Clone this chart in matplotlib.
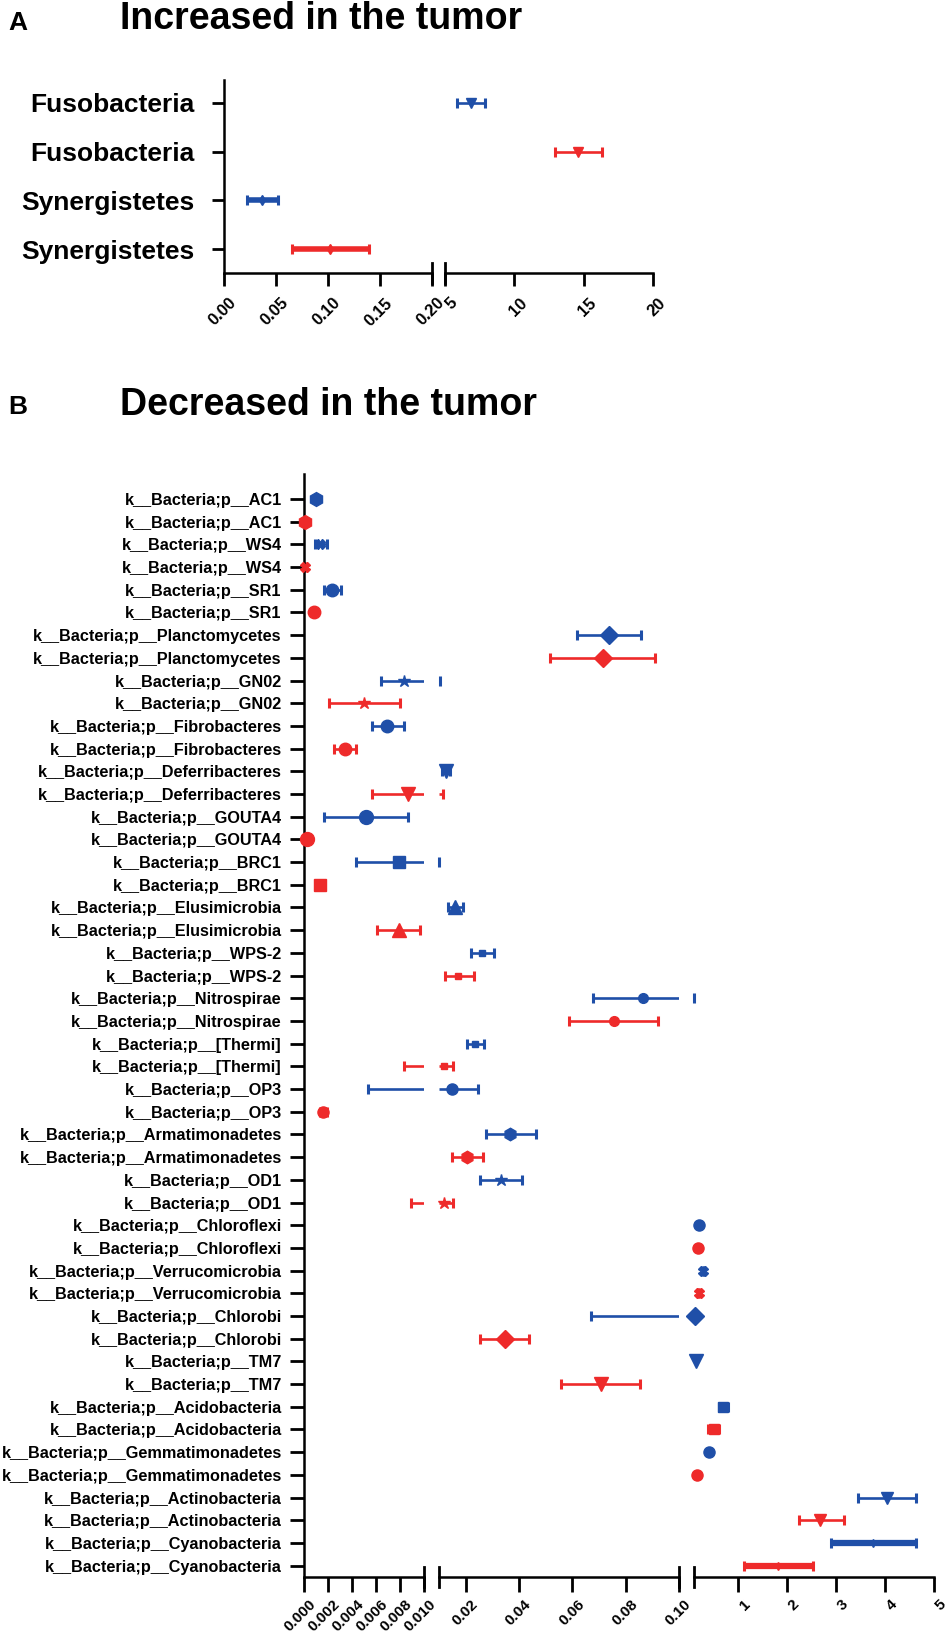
import numpy as np
import matplotlib
matplotlib.use('Agg')
import matplotlib.pyplot as plt
from matplotlib.transforms import ScaledTranslation

plt.rcParams['font.family'] = ['Liberation Sans', 'DejaVu Sans']
plt.rcParams['font.weight'] = 'bold'

BLUE = '#1f4fa8'
RED = '#ee2a2a'

# ---------------- panel A data ----------------
a_labels = ['Fusobacteria', 'Fusobacteria', 'Synergistetes', 'Synergistetes']
a_mean = [6.9, 14.6, 0.037, 0.102]
a_lo = [5.9, 12.9, 0.022, 0.065]
a_hi = [7.9, 16.3, 0.052, 0.139]
a_colors = [BLUE, RED, BLUE, RED]
a_markers = ['v', 'v', 'd', 'd']

# ---------------- panel B data ----------------
phyla = ['AC1', 'WS4', 'SR1', 'Planctomycetes', 'GN02', 'Fibrobacteres',
         'Deferribacteres', 'GOUTA4', 'BRC1', 'Elusimicrobia', 'WPS-2',
         'Nitrospirae', '[Thermi]', 'OP3', 'Armatimonadetes', 'OD1',
         'Chloroflexi', 'Verrucomicrobia', 'Chlorobi', 'TM7', 'Acidobacteria',
         'Gemmatimonadetes', 'Actinobacteria', 'Cyanobacteria']
phyla_markers = ['h', 'X', 'o', 'D', '*', 'o', 'v', 'o', 's', '^', 's', 'o',
                 's', 'o', 'h', '*', 'o', 'X', 'D', 'v', 's', 'o', 'v', 'd']
phyla_msize = [10, 7, 9, 9, 9, 9, 10, 10, 8, 10, 4, 7, 4, 8, 9, 9, 8, 7, 9, 10, 7, 8, 8, 4]

blue_mean = [0.0010, 0.00135, 0.00235, 0.0738, 0.0083, 0.0069, 0.0126, 0.0052,
             0.0079, 0.0161, 0.0262, 0.0864, 0.0236, 0.0148, 0.0368, 0.0332,
             0.21, 0.29, 0.126, 0.144, 0.70, 0.415, 4.04, 3.75]
blue_lo = [0.0009, 0.0009, 0.0017, 0.0618, 0.0064, 0.0057, 0.0110, 0.0017,
           0.0043, 0.0134, 0.0220, 0.0677, 0.0204, 0.0053, 0.0275, 0.0254,
           0.20, 0.28, 0.067, 0.14, 0.62, 0.40, 3.45, 2.90]
blue_hi = [0.0011, 0.0019, 0.0031, 0.0858, 0.0102, 0.0083, 0.0142, 0.0087,
           0.0101, 0.0191, 0.0305, 0.102, 0.0270, 0.0246, 0.0465, 0.0413,
           0.22, 0.30, 0.13, 0.15, 0.80, 0.43, 4.63, 4.63]

red_mean = [0.0001, 0.00005, 0.00085, 0.0714, 0.0050, 0.0034, 0.0087, 0.00025,
            0.0013, 0.0079, 0.0172, 0.0757, 0.0118, 0.0016, 0.0206, 0.0119,
            0.184, 0.192, 0.0347, 0.0707, 0.50, 0.152, 2.68, 1.82]
red_lo = [0.0, 0.0, 0.0007, 0.0517, 0.0021, 0.0025, 0.0057, 0.0001,
          0.0011, 0.0061, 0.0122, 0.0586, 0.0083, 0.0013, 0.0148, 0.0089,
          0.175, 0.185, 0.0255, 0.0558, 0.39, 0.145, 2.24, 1.13]
red_hi = [0.0002, 0.0002, 0.0010, 0.0909, 0.0080, 0.0043, 0.0116, 0.0004,
          0.0015, 0.0097, 0.0230, 0.0922, 0.0153, 0.0019, 0.0265, 0.0151,
          0.195, 0.20, 0.0438, 0.0853, 0.62, 0.16, 3.16, 2.52]
thick_rows = ['Cyanobacteria']

W, H = 946, 1638
fig = plt.figure(figsize=(W / 100, H / 100), dpi=100)


def box(x0, x1, ytop, ybot):
    return [x0 / W, 1 - ybot / H, (x1 - x0) / W, (ybot - ytop) / H]


def style_axes(axs, hpx, ytick_len, xtick_len, xpad):
    for i, ax in enumerate(axs):
        for s in ['top', 'right']:
            ax.spines[s].set_visible(False)
        ax.spines['bottom'].set_linewidth(1.8)
        ax.spines['left'].set_linewidth(1.8)
        ax.tick_params(axis='x', length=xtick_len, width=2, direction='out', pad=xpad)
        if i == 0:
            ax.tick_params(axis='y', length=ytick_len, width=2, direction='out')
        else:
            ax.spines['left'].set_visible(False)
            ax.tick_params(axis='y', left=False, labelleft=False)
    d = 10 / hpx
    for i, ax in enumerate(axs):
        if i < len(axs) - 1:
            ax.plot([1, 1], [-d, d], transform=ax.transAxes, color='k', lw=2, clip_on=False)
        if i > 0:
            ax.plot([0, 0], [-d, d], transform=ax.transAxes, color='k', lw=2, clip_on=False)


def draw(axs, ys, means, los, his, colors, markers, sizes, lws):
    for ax in axs:
        x0, x1 = ax.get_xlim()
        for y, lo, hi, c, lw in zip(ys, los, his, colors, lws):
            a, b = max(lo, x0), min(hi, x1)
            if a < b:
                ax.plot([a, b], [y, y], color=c, lw=lw, solid_capstyle='butt')
            for v in (lo, hi):
                if x0 <= v <= x1:
                    ax.plot([v], [y], marker='|', ms=7, mew=2.2, color=c,
                            clip_on=False)
    for y, m, c, mk, ms in zip(ys, means, colors, markers, sizes):
        for ax in axs:
            x0, x1 = ax.get_xlim()
            if x0 <= m <= x1:
                ax.plot([m], [y], marker=mk, color=c, ms=ms, ls='none',
                        clip_on=False, zorder=5)
                break


def rotate_labels(axs, size):
    shift = ScaledTranslation(5 / 100, 0, fig.dpi_scale_trans)
    for ax in axs:
        for lab in ax.get_xticklabels():
            lab.set_rotation(45)
            lab.set_ha('right')
            lab.set_va('top')
            lab.set_rotation_mode('anchor')
            lab.set_fontsize(size)
            lab.set_fontweight('bold')
            lab.set_transform(lab.get_transform() + shift)


# ---------------- panel A ----------------
fig.text(8 / W, 1 - 23 / H, 'A', fontsize=19, fontweight='bold', va='center')
fig.text(120 / W, 1 - 19 / H, 'Increased in the tumor', fontsize=27,
         fontweight='bold', va='center')

a_top, a_bot = 80, 273
axA1 = fig.add_axes(box(224, 432, a_top, a_bot))
axA2 = fig.add_axes(box(445, 653, a_top, a_bot))
axA1.set_xlim(0, 0.20)
axA2.set_xlim(5, 20)
a_y = np.arange(len(a_labels))[::-1] + 1
for ax in (axA1, axA2):
    ax.set_ylim(0.51, 4.47)
axA1.set_xticks([0, 0.05, 0.10, 0.15, 0.20])
axA1.set_xticklabels(['0.00', '0.05', '0.10', '0.15', '0.20'])
axA2.set_xticks([5, 10, 15, 20])
axA1.set_yticks(a_y)
axA1.set_yticklabels(a_labels, fontsize=19, fontweight='bold')
style_axes([axA1, axA2], a_bot - a_top, ytick_len=9, xtick_len=9, xpad=7)
axA1.tick_params(axis='y', pad=12)
draw([axA1, axA2], a_y, a_mean, a_lo, a_hi, a_colors, a_markers,
     [7, 7, 5, 5], [1.9, 1.9, 4, 4])
rotate_labels([axA1, axA2], 12)

# ---------------- panel B ----------------
fig.text(8 / W, 1 - 407 / H, 'B', fontsize=19, fontweight='bold', va='center')
fig.text(120 / W, 1 - 405 / H, 'Decreased in the tumor', fontsize=27,
         fontweight='bold', va='center')

b_top, b_bot = 474, 1577
axB1 = fig.add_axes(box(304, 424, b_top, b_bot))
axB2 = fig.add_axes(box(439, 679, b_top, b_bot))
axB3 = fig.add_axes(box(694, 934, b_top, b_bot))
axB1.set_xlim(0, 0.010)
axB2.set_xlim(0.010, 0.10)
axB3.set_xlim(0.1, 5)
n = len(phyla) * 2
for ax in (axB1, axB2, axB3):
    ax.set_ylim(0.5, n + 1.1)

b_labels, b_mean, b_lo, b_hi, b_col, b_mk, b_ms, b_lw = [], [], [], [], [], [], [], []
for i, p in enumerate(phyla):
    lw = 4.5 if p in thick_rows else 1.9
    for mean, lo, hi, col in ((blue_mean, blue_lo, blue_hi, BLUE),
                              (red_mean, red_lo, red_hi, RED)):
        b_labels.append('k__Bacteria;p__' + p)
        b_mean.append(mean[i])
        b_lo.append(lo[i])
        b_hi.append(hi[i])
        b_col.append(col)
        b_mk.append(phyla_markers[i])
        b_ms.append(phyla_msize[i])
        b_lw.append(lw)
b_y = np.arange(n)[::-1] + 1

axB1.set_xticks([0, 0.002, 0.004, 0.006, 0.008, 0.010])
axB1.set_xticklabels(['0.000', '0.002', '0.004', '0.006', '0.008', '0.010'])
axB2.set_xticks([0.02, 0.04, 0.06, 0.08, 0.10])
axB2.set_xticklabels(['0.02', '0.04', '0.06', '0.08', '0.10'])
axB3.set_xticks([1, 2, 3, 4, 5])
axB1.set_yticks(b_y)
axB1.set_yticklabels(b_labels, fontsize=11.7, fontweight='bold')
style_axes([axB1, axB2, axB3], b_bot - b_top, ytick_len=10, xtick_len=11, xpad=3.5)
axB1.tick_params(axis='y', pad=6)
draw([axB1, axB2, axB3], b_y, b_mean, b_lo, b_hi, b_col, b_mk, b_ms, b_lw)
rotate_labels([axB1, axB2, axB3], 11)

fig.savefig('out.png', dpi=100)
